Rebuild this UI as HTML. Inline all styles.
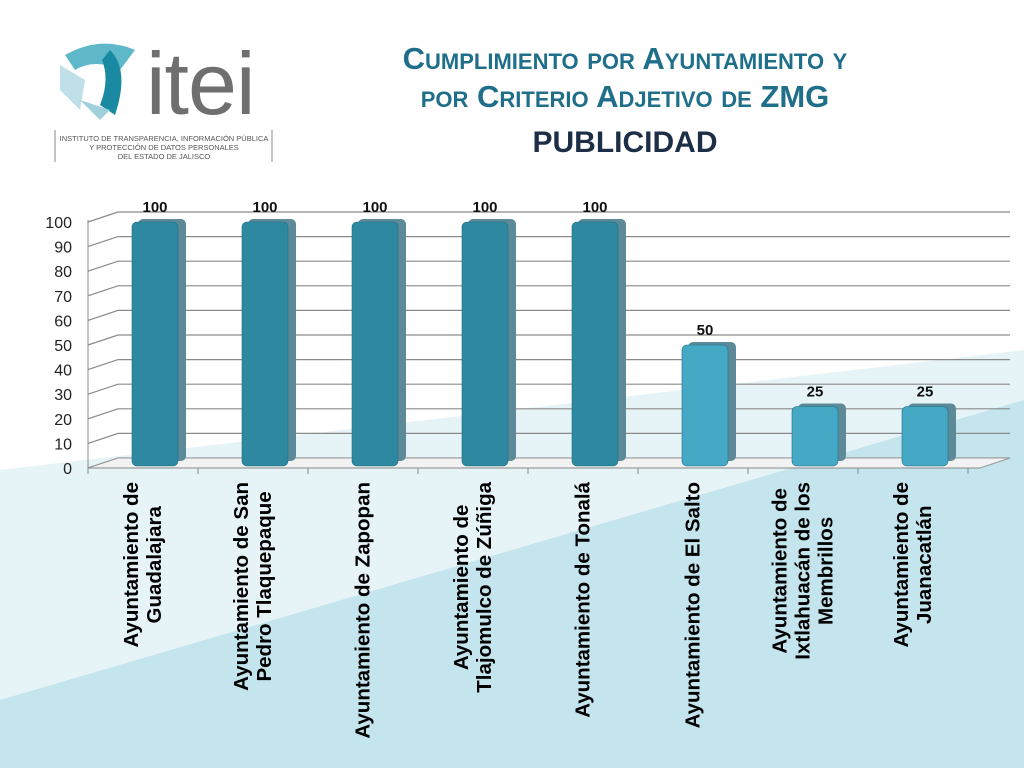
<!DOCTYPE html>
<html><head><meta charset="utf-8">
<style>
body{margin:0;width:1024px;height:768px;overflow:hidden;background:#fff;font-family:"Liberation Sans",sans-serif;position:relative}
.title{position:absolute;left:330px;width:590px;text-align:center;color:#1f6f8b;font-weight:bold;font-variant:small-caps;font-size:31px;line-height:38px;top:40px}
.sub{position:absolute;left:330px;width:590px;text-align:center;top:126px;font-size:30px;font-weight:bold;color:#1d2f47}
.lbl{position:absolute;top:482px;transform-origin:0 0;transform:rotate(-90deg) translate(-100%,-50%);white-space:nowrap;text-align:center;font-weight:bold;font-size:20.5px;line-height:23px;color:#000}
</style></head><body>
<svg width="1024" height="768" style="position:absolute;left:0;top:0">
<polygon points="0,470 1024,350 1024,768 0,768" fill="#e6f3f7"/>
<polygon points="0,700 1024,400 1024,768 0,768" fill="#c4e5ed"/>
</svg>
<svg width="300" height="140" style="position:absolute;left:40px;top:30px">
<path d="M25,25 Q60,5 95,20 L80,40 Q55,28 35,40 Z" fill="#5fb8c9"/>
<path d="M70,20 Q90,40 75,85 L60,75 Q70,50 62,30 Z" fill="#1a8aa3"/>
<path d="M20,35 L45,50 L40,80 L20,60 Z" fill="#bfe0e8"/>
<path d="M40,70 L70,80 L60,90 Z" fill="#9fd0dc"/>
<text x="106" y="84" font-size="88" fill="#6f6f6f" font-family="Liberation Sans" letter-spacing="-1">itei</text>
<line x1="15" y1="100" x2="15" y2="132" stroke="#888"/><line x1="232" y1="100" x2="232" y2="132" stroke="#888"/>
<text x="124" y="111" font-size="7.5" fill="#555" text-anchor="middle">INSTITUTO DE TRANSPARENCIA, INFORMACIÓN PÚBLICA</text>
<text x="124" y="120" font-size="7.5" fill="#555" text-anchor="middle">Y PROTECCIÓN DE DATOS PERSONALES</text>
<text x="124" y="129" font-size="7.5" fill="#555" text-anchor="middle">DEL ESTADO DE JALISCO</text>
</svg>
<div class="title">Cumplimiento por Ayuntamiento y<br>por Criterio Adjetivo de ZMG</div>
<div class="sub">PUBLICIDAD</div>
<svg id="chart" width="1024" height="768" style="position:absolute;left:0;top:0"></svg>
<div id="labels"></div>
<script>
const categories=["Ayuntamiento de<br>Guadalajara","Ayuntamiento de San<br>Pedro Tlaquepaque","Ayuntamiento de Zapopan","Ayuntamiento de<br>Tlajomulco de Zúñiga","Ayuntamiento de Tonalá","Ayuntamiento de  El Salto","Ayuntamiento de<br>Ixtlahuacán de los<br>Membrillos","Ayuntamiento de<br>Juanacatlán"];
const values=[100,100,100,100,100,50,25,25];
const ticks=[0,10,20,30,40,50,60,70,80,90,100];
const NS="http://www.w3.org/2000/svg";
const svg=document.getElementById('chart');
const x0=88,y0=468,yTop=222,dx=30,dy=10,xEnd=980,step=110;
const y=v=>y0-(y0-yTop)*v/100;
const cx=i=>x0+step*(i+0.5)+12;
function mk(t,a){const e=document.createElementNS(NS,t);for(const k in a)e.setAttribute(k,a[k]);svg.appendChild(e);return e;}
ticks.forEach(t=>{
 const g=mk('polyline',{points:`${x0},${y(t)} ${x0+dx},${y(t)-dy} ${xEnd+dx},${y(t)-dy}`,fill:'none',stroke:'#8a8a8a','stroke-width':1.2});
 
 
 const l=mk('text',{x:x0-16,y:y(t)+6,'text-anchor':'end','font-size':16,fill:'#222','font-family':'Liberation Sans'});
 l.textContent=t;
 
 
});
mk('polygon',{points:`${x0},${y0} ${x0+dx},${y0-dy} ${xEnd+dx},${y0-dy} ${xEnd},${y0}`,fill:'#f2f2f2',stroke:'#999'});
mk('line',{x1:x0,y1:y0,x2:xEnd,y2:y0,stroke:'#888'});
mk('line',{x1:x0,y1:yTop-2,x2:x0,y2:y0+6,stroke:'#888'});
for(let i=0;i<=categories.length;i++)mk('line',{x1:x0+step*i,y1:y0,x2:x0+step*i,y2:y0+6,stroke:'#888'});
const lab=document.getElementById('labels');
values.forEach((v,i)=>{
 const c=cx(i),w=46,top=y(v),col=i<5?'#2e88a0':'#45a9c6';
 const s=mk('rect',{x:c-w/2+6,y:top-3,width:w+2,height:y0-top-4,rx:5,fill:'#5d8a98'});
 
 
 const b=mk('rect',{x:c-w/2,y:top,width:w,height:y0-top-2,rx:5,fill:col,stroke:'#1e6f85','stroke-width':0.6});
 
 
 const t=mk('text',{x:c,y:top-10,'text-anchor':'middle','font-size':15,'font-weight':'bold',fill:'#111','font-family':'Liberation Sans'});
 t.textContent=v;
 
 
 const d=document.createElement('div');
 d.className='lbl';d.style.left=(x0+step*(i+0.5))+'px';d.innerHTML=categories[i];
 
 
 lab.appendChild(d);
});
</script>
</body></html>
